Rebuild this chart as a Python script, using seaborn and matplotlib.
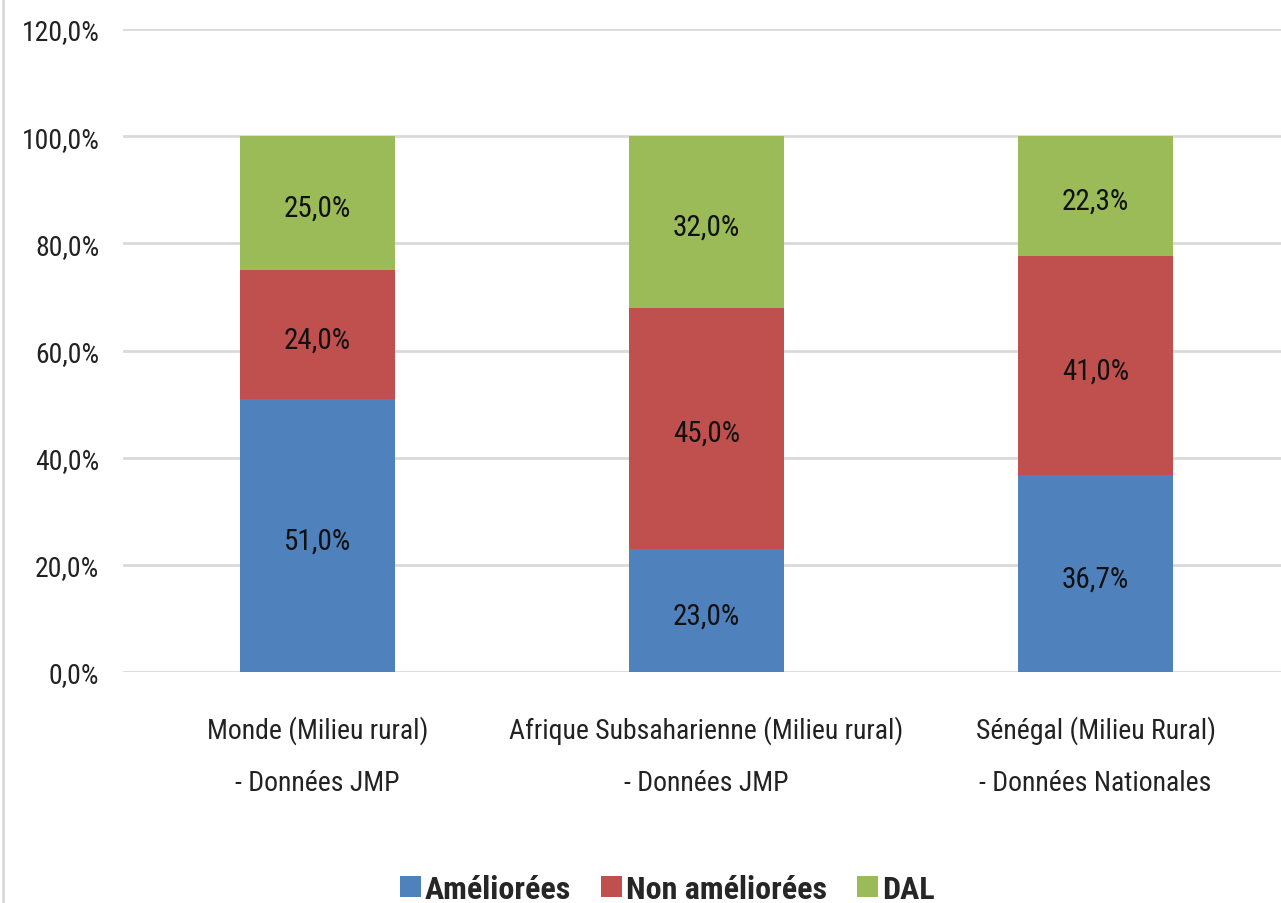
import matplotlib
matplotlib.use("Agg")
import matplotlib.pyplot as plt
from matplotlib import font_manager
from matplotlib.lines import Line2D
from matplotlib.patches import Patch
from matplotlib.ticker import FuncFormatter
import seaborn as sns

# -- Data ------------------------------------------------------------------
categories = [
    "Monde (Milieu rural)\n- Données JMP",
    "Afrique Subsaharienne (Milieu rural)\n- Données JMP",
    "Sénégal (Milieu Rural)\n- Données Nationales",
]
ameliorees = [51.0, 23.0, 36.7]
non_ameliorees = [24.0, 45.0, 41.0]
dal = [25.0, 32.0, 22.3]
series_names = ["Améliorées", "Non améliorées", "DAL"]
colors = ["#4F81BD", "#C0504D", "#9BBB59"]
y_ticks = [0, 20, 40, 60, 80, 100, 120]

# -- Setup -----------------------------------------------------------------
sns.set_theme(style="white")

# look for a condensed face, the original uses a narrow font
fonts = font_manager.fontManager.ttflist
names = {f.name for f in fonts}
narrow = [n for n in ["Roboto Condensed", "Liberation Sans Narrow",
                      "Open Sans Condensed", "DejaVu Sans Condensed"]
          if n in names]
if narrow:
    plt.rcParams["font.family"] = [narrow[0], "DejaVu Sans"]
    scale = 1.0
else:
    plt.rcParams["font.family"] = ["DejaVu Sans"]
    plt.rcParams["font.stretch"] = "condensed"
    scale = 0.8

fig = plt.figure(figsize=(12.81, 9.04), dpi=100)
ax = fig.add_axes([123 / 1281, 1 - 673 / 904, 1167 / 1281, 643 / 904])

# stacked bars: each layer sits on the sum of the layers below it
bottom_red = ameliorees
bottom_green = [a + n for a, n in zip(ameliorees, non_ameliorees)]
layers = [
    (ameliorees, [0, 0, 0]),
    (non_ameliorees, bottom_red),
    (dal, bottom_green),
]
for (values, bottom), color in zip(layers, colors):
    sns.barplot(x=categories, y=values, bottom=bottom, color=color,
                width=0.4, saturation=1, ax=ax, zorder=3, linewidth=0)

for container, (values, _) in zip(ax.containers, layers):
    ax.bar_label(container,
                 labels=[f"{v:.1f}%".replace(".", ",") for v in values],
                 label_type="center", padding=-3.5,
                 fontsize=21 * scale, color="#111111")

# -- Axes styling ----------------------------------------------------------
ax.set_ylim(0, 120)
ax.set_xlim(-0.5, 2.5)
ax.set_yticks(y_ticks)
ax.yaxis.set_major_formatter(
    FuncFormatter(lambda v, _: f"{v:.1f}%".replace(".", ",")))
ax.grid(axis="y", color="#D9D9D9", linewidth=2, zorder=0)
ax.set_axisbelow(True)
for spine in ax.spines.values():
    spine.set_visible(False)
ax.tick_params(axis="y", length=0, pad=17, labelsize=20 * scale,
               labelcolor="#222222")
ax.tick_params(axis="x", length=0, pad=31, labelsize=20 * scale,
               labelcolor="#222222")
for label in ax.get_xticklabels():
    label.set_linespacing(2.2 / scale)
ax.set_xlabel("")
ax.set_ylabel("")

# light frame line on the left edge
fig.add_artist(Line2D([3 / 1281, 3 / 1281], [0, 1], color="#D9D9D9",
                      linewidth=2, transform=fig.transFigure))

# -- Legend ----------------------------------------------------------------
handles = [Patch(facecolor=c, edgecolor="none") for c in colors]
fig.legend(handles, series_names, loc="center", bbox_to_anchor=(0.521, 0.016),
           ncol=3, frameon=False,
           prop={"size": 23 * scale, "weight": "bold"},
           handlelength=0.65, handleheight=0.65, handletextpad=0.12,
           columnspacing=0.95)

fig.savefig("out.png", dpi=100)
